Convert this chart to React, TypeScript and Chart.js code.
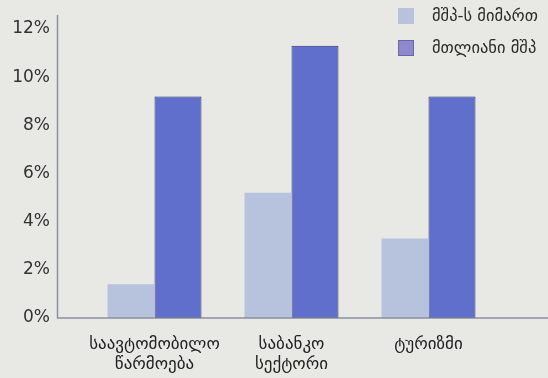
import React, { useEffect, useRef } from "react";
import { Chart, registerables } from "chart.js";

Chart.register(...registerables);

const categories: string[][] = [
  ["საავტომობილო", "წარმოება"],
  ["საბანკო", "სექტორი"],
  ["ტურიზმი"],
];
const seriesNames = ["მშპ-ს მიმართ", "მთლიანი მშპ"];
const shareOfGdp = [1.4, 5.2, 3.3];
const totalGdp = [9.2, 11.3, 9.2];
const yTicks = [0, 2, 4, 6, 8, 10, 12];

const lightFill = "#b7c2dc";
const darkFill = "#5f6fcb";
const darkEdge = "#2b3470";
const legendDark = "#8d89cc";
const axisColor = "#8b90a2";
const bg = "#e8e8e5";

const decorPlugin = {
  id: "decor",
  beforeDraw(chart: any) {
    const { ctx, width, height } = chart;
    ctx.save();
    ctx.fillStyle = bg;
    ctx.fillRect(0, 0, width, height);
    ctx.restore();
  },
  afterDraw(chart: any) {
    const { ctx, chartArea } = chart;
    const y0 = chart.scales.y.getPixelForValue(0);
    const axisX = chartArea.left - 28.5;
    ctx.save();
    ctx.strokeStyle = axisColor;
    ctx.lineWidth = 1.5;
    ctx.beginPath();
    ctx.moveTo(axisX, 15);
    ctx.lineTo(axisX, y0);
    ctx.lineTo(chart.width, y0);
    ctx.stroke();

    // legend, stacked in the top-right corner
    const items = [
      { label: seriesNames[0], fill: lightFill, edge: null },
      { label: seriesNames[1], fill: legendDark, edge: "#6a66a8" },
    ];
    ctx.font = "16.5px 'DejaVu Sans'";
    ctx.textBaseline = "middle";
    ctx.textAlign = "left";
    items.forEach((it, i) => {
      const by = 8 + i * 32;
      ctx.fillStyle = it.fill;
      ctx.fillRect(398, by, 16, 16);
      if (it.edge) {
        ctx.strokeStyle = it.edge;
        ctx.lineWidth = 1;
        ctx.strokeRect(398.5, by + 0.5, 15, 15);
      }
      ctx.fillStyle = "#2a2a2a";
      ctx.fillText(it.label, 432, by + 9);
    });
    ctx.restore();
  },
};

export default function App() {
  const ref = useRef<HTMLCanvasElement | null>(null);

  useEffect(() => {
    if (!ref.current) return;
    const chart = new Chart(ref.current, {
      type: "bar",
      data: {
        labels: categories,
        datasets: [
          {
            label: seriesNames[0],
            data: shareOfGdp,
            backgroundColor: lightFill,
            borderWidth: 0,
          },
          {
            label: seriesNames[1],
            data: totalGdp,
            backgroundColor: darkFill,
            borderColor: darkEdge,
            borderWidth: 1,
            borderSkipped: false,
          },
        ],
      },
      options: {
        animation: false,
        responsive: false,
        maintainAspectRatio: false,
        layout: { padding: { top: 29, right: 51, left: 0, bottom: 0 } },
        datasets: {
          bar: { barPercentage: 1, categoryPercentage: 0.686 },
        },
        plugins: {
          legend: { display: false },
          tooltip: { enabled: false },
        },
        scales: {
          x: {
            grid: { display: false },
            border: { display: false },
            ticks: {
              color: "#222",
              font: { family: "'DejaVu Sans'", size: 17, lineHeight: 1.2 },
              padding: 8,
              maxRotation: 0,
              autoSkip: false,
            },
            afterFit(scale: any) {
              scale.height = 60;
              scale.paddingLeft = 0;
              scale.paddingRight = 0;
            },
          },
          y: {
            min: 0,
            max: 12,
            afterBuildTicks(scale: any) {
              scale.ticks = yTicks.map((v) => ({ value: v }));
            },
            grid: { display: false },
            border: { display: false },
            ticks: {
              color: "#333",
              font: { family: "'DejaVu Sans'", size: 17 },
              padding: 28,
              callback: (v: any) => `${v}%`,
            },
            afterFit(scale: any) {
              scale.width = 86;
              scale.paddingTop = 0;
              scale.paddingBottom = 0;
            },
          },
        },
      },
      plugins: [decorPlugin],
    });
    return () => chart.destroy();
  }, []);

  return (
    <div style={{ position: "fixed", left: 0, top: 0, width: 548, height: 378, background: bg }}>
      <canvas ref={ref} width={548} height={378} style={{ display: "block" }} />
    </div>
  );
}
